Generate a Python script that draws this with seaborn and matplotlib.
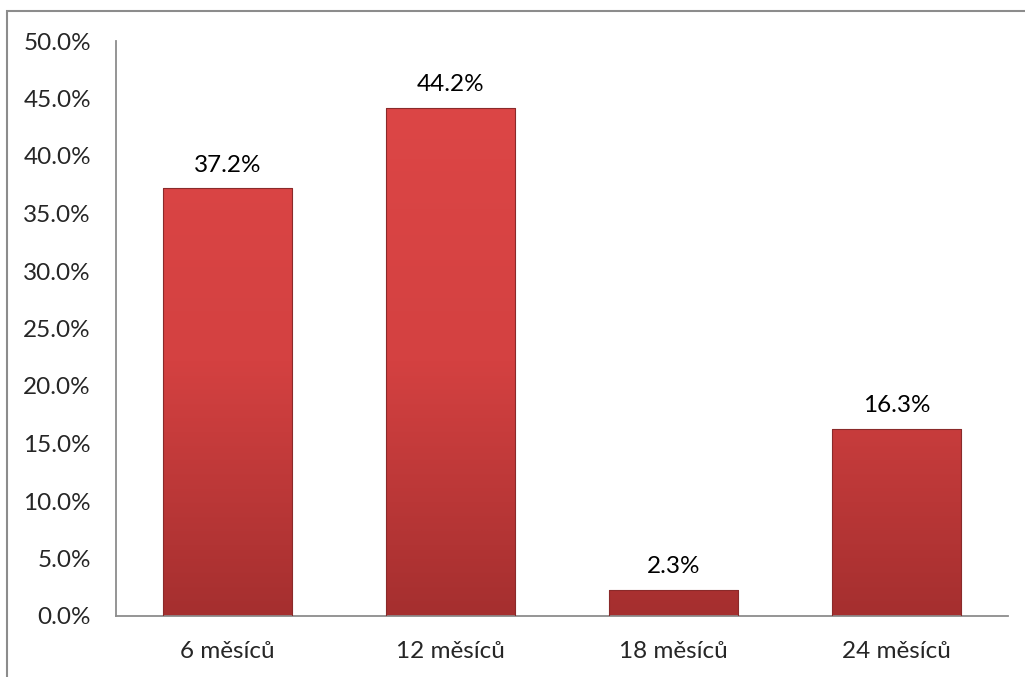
import numpy as np
import pandas as pd
import matplotlib.pyplot as plt
import matplotlib.patches as mpatches
from matplotlib.colors import LinearSegmentedColormap
import seaborn as sns

categories = ['6 měsíců', '12 měsíců', '18 měsíců', '24 měsíců']
values = [37.2, 44.2, 2.3, 16.3]

df = pd.DataFrame({'Období': categories, 'Podíl': values})

sns.set_style('white')
plt.rcParams['font.family'] = ['Lato', 'DejaVu Sans']

fig = plt.figure(figsize=(10.25, 6.77), dpi=100)
ax = fig.add_axes([116/1025, 1-616/677, (1008-116)/1025, (616-41)/677])

ax = sns.barplot(data=df, x='Období', y='Podíl', color='#c83b3b', width=0.58,
                 saturation=1, ax=ax)

# gradient fill on every bar (light red on top, darker at the bottom)
cmap = LinearSegmentedColormap.from_list('bar', ['#dc4646', '#d44141', '#a52f2f'])
grad = np.linspace(0, 1, 256).reshape(-1, 1)
for bar in ax.patches:
    x0, y0 = bar.get_x(), bar.get_y()
    w, h = bar.get_width(), bar.get_height()
    im = ax.imshow(grad, cmap=cmap, aspect='auto', extent=[x0, x0 + w, 0, 44.2],
                   origin='upper', zorder=2)
    im.set_clip_path(bar)
    bar.set_edgecolor('#8a2a2a')
    bar.set_linewidth(0.8)
    bar.set_zorder(3)
    bar.set_facecolor('none')

for bar, v in zip(ax.patches, values):
    ax.text(bar.get_x() + bar.get_width() / 2, v + 1.1, f'{v:.1f}%',
            ha='center', va='bottom', fontsize=17.5, color='black')

ax.set_ylim(0, 50)
ax.set_xlim(-0.5, 3.5)
ax.set_yticks(np.arange(0, 50.1, 5))
ax.set_yticklabels([f'{t:.1f}%' for t in np.arange(0, 50.1, 5)])
ax.tick_params(axis='both', labelsize=17.5, length=0)
ax.tick_params(axis='y', pad=18)
ax.tick_params(axis='x', pad=18)
ax.set_xlabel('')
ax.set_ylabel('')
for s in ['top', 'right']:
    ax.spines[s].set_visible(False)
for s in ['left', 'bottom']:
    ax.spines[s].set_color('#8c8c8c')
    ax.spines[s].set_linewidth(1.3)

# outer chart frame (cut off at right and bottom as in the original)
fig.patches.append(mpatches.Rectangle((7/1025, -0.1), 1.1, 1 - 11/677 + 0.1,
                                      transform=fig.transFigure, fill=False,
                                      edgecolor='#8c8c8c', linewidth=1.5))

fig.savefig('out.png', dpi=100)
